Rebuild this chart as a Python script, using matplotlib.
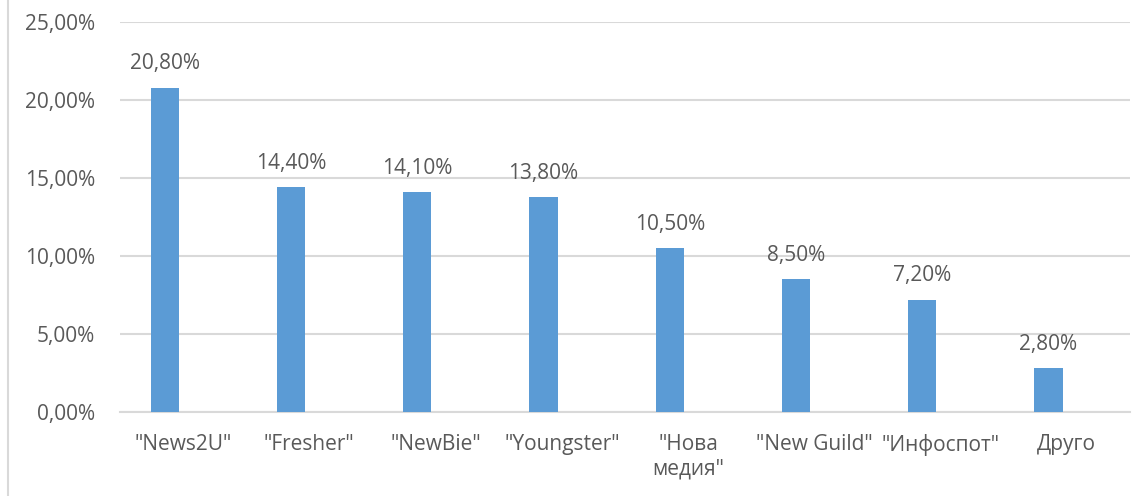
import matplotlib.pyplot as plt
from matplotlib.lines import Line2D

categories = ['"News2U"', '"Fresher"', '"NewBie"', '"Youngster"', '"Нова\nмедия"',
              '"New Guild"', '"Инфоспот"', 'Друго']
values = [20.8, 14.4, 14.1, 13.8, 10.5, 8.5, 7.2, 2.8]
yticks = [0, 5, 10, 15, 20, 25]

plt.rcParams['font.family'] = ['Open Sans', 'DejaVu Sans']
text_color = '#595959'
grid_color = '#D9D9D9'
fs = 15

fig = plt.figure(figsize=(11.46, 4.96), dpi=100)
ax = fig.add_axes([0.1047, 0.1694, 0.8813, 0.7862])

x = list(range(len(categories)))
# bars sit left of the category centre, like a clustered series in Excel
shift = -0.145
bx = [xi + shift for xi in x]
bars = ax.bar(bx, values, width=0.225, color='#5B9BD5', zorder=3)

for xi, v in zip(bx, values):
    ax.annotate(f'{v:.2f}%'.replace('.', ','), (xi, v), xytext=(0, 9.5),
                textcoords='offset points', ha='center', va='bottom',
                fontsize=fs, color=text_color)

ax.set_xlim(-0.5, len(categories) - 0.5)
ax.set_ylim(0, 25)
ax.set_yticks(yticks)
ax.set_yticklabels([f'{t:.2f}%'.replace('.', ',') for t in yticks])
ax.set_xticks(x)
ax.set_xticklabels(categories, linespacing=1.2)

ax.yaxis.grid(True, color=grid_color, linewidth=1.5, zorder=0)
ax.set_axisbelow(True)
for s in ['top', 'right', 'left']:
    ax.spines[s].set_visible(False)
ax.spines['bottom'].set_color(grid_color)
ax.spines['bottom'].set_linewidth(1.5)
ax.tick_params(axis='both', length=0, labelsize=fs, colors=text_color)
ax.tick_params(axis='x', pad=16)
ax.tick_params(axis='y', pad=18)

fig.add_artist(Line2D([7.5 / 1146, 7.5 / 1146], [0, 1], color=grid_color,
                      linewidth=1.5, transform=fig.transFigure))

fig.savefig('out.png', dpi=100)
